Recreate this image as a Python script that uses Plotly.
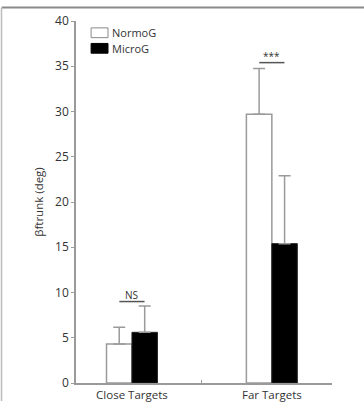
import plotly.graph_objects as go

categories = ["Close Targets", "Far Targets"]
cat_pos = [0, 1]
normo_mean = [4.3, 29.7]
normo_err = [1.85, 5.05]
micro_mean = [5.6, 15.4]
micro_err = [2.9, 7.5]
sig_labels = ["NS", "***"]
sig_y = [9.0, 35.4]
legend_names = ["NormoG", "MicroG"]

axis_col = "#9a9a9a"
txt_col = "#333333"
fam = "Open Sans"

fig = go.Figure()
fig.add_trace(go.Bar(
    name=legend_names[0], x=cat_pos, y=normo_mean,
    marker=dict(color="white", line=dict(color=axis_col, width=1.5)),
    error_y=dict(type="data", array=normo_err, symmetric=False, arrayminus=[0, 0],
                 color=axis_col, thickness=1.5, width=6),
))
fig.add_trace(go.Bar(
    name=legend_names[1], x=cat_pos, y=micro_mean,
    marker=dict(color="black", line=dict(color="#222222", width=1)),
    error_y=dict(type="data", array=micro_err, symmetric=False, arrayminus=[0, 0],
                 color=axis_col, thickness=1.5, width=6),
))

for xc, lab, yv in zip(cat_pos, sig_labels, sig_y):
    fig.add_shape(type="line", x0=xc - 0.09, x1=xc + 0.09, y0=yv, y1=yv,
                  line=dict(color="#555555", width=1.5))
    fig.add_annotation(x=xc, y=yv, text=lab, showarrow=False, yanchor="bottom",
                       yshift=-2, font=dict(family=fam, size=10, color=txt_col))

# manual legend
leg_rows = [(0.981, 0.954, "white", "#8a8a8a"), (0.938, 0.911, "black", "black")]
for (ya, yb, fc, lc), name in zip(leg_rows, legend_names):
    fig.add_shape(type="rect", xref="paper", yref="paper", x0=0.059, x1=0.125,
                  y0=yb, y1=ya, fillcolor=fc, line=dict(color=lc, width=1))
    fig.add_annotation(xref="paper", yref="paper", x=0.136, y=(ya + yb) / 2, text=name,
                       showarrow=False, xanchor="left", yanchor="middle",
                       borderpad=0,
                       font=dict(family=fam, size=11, color=txt_col))

# frame lines of the figure
fig.add_shape(type="line", xref="paper", yref="paper", x0=-0.29, x1=1.125,
              y0=1.037, y1=1.037, line=dict(color="#8a8a8a", width=2))
fig.add_shape(type="line", xref="paper", yref="paper", x0=-0.291, x1=-0.291,
              y0=1.037, y1=-0.05, line=dict(color="#bbbbbb", width=1.5))

fig.update_layout(
    width=364, height=414,
    margin=dict(l=76, r=32, t=19, b=18),
    paper_bgcolor="white", plot_bgcolor="white",
    barmode="group", bargap=0.636, bargroupgap=0,
    font=dict(family=fam, size=12, color=txt_col),
    showlegend=False,
    xaxis=dict(range=[-0.4, 1.43], tickvals=cat_pos, ticktext=categories, ticks="",
               showline=True, linecolor=axis_col, linewidth=1.5, showgrid=False, zeroline=False,
               minor=dict(tickvals=[0.5], ticks="inside", ticklen=3, tickcolor=axis_col),
               tickfont=dict(family=fam, size=11.5, color=txt_col)),
    yaxis=dict(range=[0, 40], dtick=5, ticks="outside", ticklen=3, tickcolor=axis_col,
               showline=True, linecolor=axis_col, linewidth=1.5, showgrid=False, zeroline=False,
               title=dict(text="βftrunk (deg)", standoff=9,
                          font=dict(family=fam, size=11.5, color=txt_col)),
               tickfont=dict(family=fam, size=12, color=txt_col)),
)

fig.write_html("out.html")
